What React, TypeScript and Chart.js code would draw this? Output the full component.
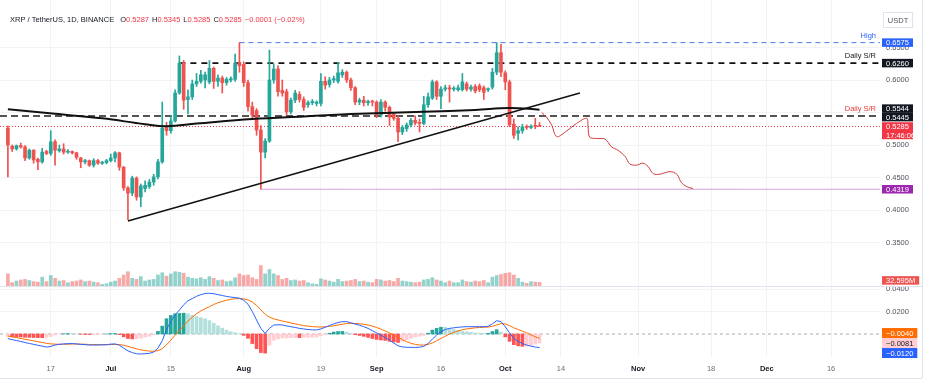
import React, { useEffect, useRef } from 'react';
import { Chart, registerables } from 'chart.js';

Chart.register(...registerables);

const FONT = '"Liberation Sans", Arial, sans-serif';
const FS = 7.5;

// day index: 0 = 1 Jul 2024
const FIRST_DAY = -24; // 7 Jun 2024
const X_MIN = -25.84;
const X_MAX = 179.4;

const X_TICK_DAYS = [-14, 0, 14, 31, 49, 62, 77, 92, 105, 123, 140, 153, 168];
const X_TICK_LABELS = ['17', 'Jul', '15', 'Aug', '19', 'Sep', '16', 'Oct', '14', 'Nov', '18', 'Dec', '16'];
const MONTH_LABELS = ['Jul', 'Aug', 'Sep', 'Oct', 'Nov', 'Dec'];

const PRICE_TICKS = [0.35, 0.4, 0.45, 0.5, 0.55, 0.6, 0.65];
const MACD_TICKS = [0.02, 0.04];
const PRICE_MIN = 0.28308;
const PRICE_MAX = 0.72308;
const MACD_MIN = -0.020444;
const MACD_MAX = 0.042667;
const VOL_AXIS_MAX = 2600;

const OPEN = [
  0.526, 0.498, 0.494, 0.499, 0.497, 0.480, 0.492, 0.478, 0.474, 0.490,
  0.487, 0.505, 0.491, 0.494, 0.489, 0.490, 0.488, 0.480, 0.474, 0.476,
  0.469, 0.476, 0.472, 0.473, 0.476, 0.480, 0.488, 0.466, 0.434, 0.426,
  0.449, 0.420, 0.433, 0.436, 0.443, 0.451, 0.474, 0.527, 0.522, 0.537,
  0.580, 0.626, 0.570, 0.574, 0.594, 0.598, 0.600, 0.597, 0.618, 0.598,
  0.603, 0.596, 0.600, 0.601, 0.627, 0.624, 0.596, 0.559, 0.553, 0.523,
  0.489, 0.506, 0.600, 0.617, 0.584, 0.582, 0.551, 0.569, 0.578, 0.570,
  0.562, 0.565, 0.564, 0.564, 0.598, 0.593, 0.600, 0.598, 0.608, 0.612,
  0.600, 0.588, 0.566, 0.569, 0.565, 0.567, 0.566, 0.546, 0.566, 0.558,
  0.548, 0.541, 0.520, 0.525, 0.531, 0.538, 0.535, 0.533, 0.562, 0.572,
  0.597, 0.575, 0.586, 0.588, 0.586, 0.585, 0.585, 0.594, 0.586, 0.590,
  0.591, 0.588, 0.585, 0.589, 0.612, 0.642, 0.611, 0.597, 0.532, 0.518,
  0.522, 0.528, 0.527, 0.529, 0.5287,
];
const HIGH = [
  0.529, 0.500, 0.500, 0.503, 0.499, 0.494, 0.493, 0.480, 0.495, 0.492,
  0.522, 0.508, 0.500, 0.502, 0.493, 0.491, 0.489, 0.481, 0.478, 0.477,
  0.479, 0.478, 0.475, 0.478, 0.486, 0.490, 0.489, 0.467, 0.436, 0.452,
  0.451, 0.440, 0.445, 0.447, 0.455, 0.478, 0.566, 0.535, 0.545, 0.585,
  0.637, 0.630, 0.585, 0.600, 0.610, 0.615, 0.612, 0.630, 0.620, 0.608,
  0.606, 0.604, 0.605, 0.640, 0.6575, 0.628, 0.600, 0.566, 0.556, 0.530,
  0.510, 0.646, 0.625, 0.622, 0.600, 0.586, 0.572, 0.584, 0.582, 0.574,
  0.568, 0.570, 0.568, 0.610, 0.605, 0.604, 0.606, 0.627, 0.616, 0.614,
  0.603, 0.590, 0.572, 0.575, 0.569, 0.569, 0.568, 0.570, 0.568, 0.560,
  0.550, 0.545, 0.530, 0.534, 0.541, 0.545, 0.540, 0.575, 0.580, 0.600,
  0.599, 0.590, 0.592, 0.592, 0.590, 0.592, 0.610, 0.597, 0.592, 0.593,
  0.594, 0.591, 0.588, 0.618, 0.6575, 0.655, 0.614, 0.600, 0.540, 0.528,
  0.532, 0.531, 0.531, 0.541, 0.5345,
];
const LOW = [
  0.451, 0.490, 0.492, 0.495, 0.476, 0.478, 0.472, 0.462, 0.472, 0.485,
  0.484, 0.469, 0.489, 0.486, 0.487, 0.486, 0.478, 0.465, 0.471, 0.467,
  0.466, 0.470, 0.470, 0.471, 0.474, 0.474, 0.461, 0.430, 0.385, 0.422,
  0.415, 0.405, 0.428, 0.433, 0.438, 0.448, 0.472, 0.515, 0.518, 0.535,
  0.578, 0.555, 0.548, 0.570, 0.590, 0.595, 0.588, 0.594, 0.587, 0.590,
  0.580, 0.592, 0.597, 0.598, 0.612, 0.590, 0.552, 0.540, 0.515, 0.4319,
  0.480, 0.504, 0.595, 0.575, 0.575, 0.546, 0.548, 0.565, 0.566, 0.553,
  0.558, 0.562, 0.560, 0.560, 0.586, 0.589, 0.596, 0.595, 0.604, 0.596,
  0.584, 0.562, 0.562, 0.560, 0.561, 0.560, 0.542, 0.543, 0.552, 0.530,
  0.538, 0.505, 0.516, 0.521, 0.528, 0.531, 0.520, 0.531, 0.558, 0.570,
  0.570, 0.556, 0.583, 0.566, 0.583, 0.583, 0.583, 0.583, 0.583, 0.580,
  0.582, 0.570, 0.582, 0.586, 0.608, 0.605, 0.585, 0.528, 0.510, 0.508,
  0.518, 0.524, 0.525, 0.525, 0.5285,
];
const CLOSE = [
  0.500, 0.494, 0.499, 0.497, 0.480, 0.492, 0.477, 0.474, 0.489, 0.487,
  0.505, 0.492, 0.494, 0.489, 0.490, 0.488, 0.481, 0.474, 0.476, 0.469,
  0.476, 0.472, 0.473, 0.476, 0.480, 0.488, 0.466, 0.434, 0.426, 0.449,
  0.420, 0.437, 0.438, 0.443, 0.451, 0.474, 0.526, 0.522, 0.537, 0.580,
  0.626, 0.569, 0.574, 0.594, 0.598, 0.608, 0.608, 0.618, 0.598, 0.603,
  0.596, 0.601, 0.602, 0.626, 0.622, 0.596, 0.559, 0.546, 0.523, 0.489,
  0.506, 0.600, 0.617, 0.582, 0.580, 0.551, 0.569, 0.580, 0.570, 0.558,
  0.565, 0.567, 0.566, 0.598, 0.592, 0.600, 0.602, 0.611, 0.612, 0.600,
  0.588, 0.566, 0.569, 0.565, 0.567, 0.566, 0.546, 0.566, 0.558, 0.543,
  0.541, 0.520, 0.527, 0.531, 0.538, 0.534, 0.533, 0.562, 0.574, 0.597,
  0.575, 0.586, 0.588, 0.586, 0.587, 0.588, 0.597, 0.586, 0.589, 0.583,
  0.585, 0.581, 0.586, 0.612, 0.642, 0.612, 0.597, 0.531, 0.515, 0.522,
  0.528, 0.527, 0.529, 0.5287, 0.5285,
];
// volume in millions
const VOLUME = [
  110, 30, 45, 55, 60, 50, 40, 35, 80, 40,
  95, 70, 45, 50, 30, 40, 45, 55, 40, 45,
  35, 30, 15, 20, 35, 45, 70, 100, 130, 70,
  60, 85, 45, 55, 60, 100, 120, 90, 110, 130,
  125, 115, 80, 70, 65, 75, 60, 85, 70, 50,
  55, 40, 45, 75, 110, 95, 100, 75, 60, 185,
  110, 150, 110, 95, 60, 70, 50, 55, 45, 50,
  30, 20, 15, 65, 55, 45, 35, 60, 40, 45,
  50, 60, 40, 45, 35, 30, 60, 55, 45, 50,
  40, 70, 45, 40, 35, 30, 35, 55, 60, 75,
  55, 45, 30, 45, 30, 30, 55, 40, 35, 45,
  40, 50, 30, 80, 95, 105, 115, 120, 100, 70,
  35, 25, 40, 35, 32.595,
];
const MACD = [
  -0.0040, -0.0050, -0.0058, -0.0066, -0.0076, -0.0084, -0.0092, -0.0100, -0.0108, -0.0116,
  -0.0110, -0.0098, -0.0092, -0.0088, -0.0086, -0.0085, -0.0088, -0.0092, -0.0095, -0.0098,
  -0.0098, -0.0098, -0.0096, -0.0095, -0.0090, -0.0088, -0.0100, -0.0125, -0.0150, -0.0165,
  -0.0175, -0.0178, -0.0175, -0.0172, -0.0160, -0.0125, -0.0060, 0.0040, 0.0110, 0.0170,
  0.0213, 0.0260, 0.0295, 0.0315, 0.0335, 0.0350, 0.0360, 0.0362, 0.0358, 0.0350,
  0.0342, 0.0334, 0.0328, 0.0324, 0.0318, 0.0300, 0.0265, 0.0200, 0.0124, 0.0050,
  0.0005, 0.0050, 0.0080, 0.0082, 0.0080, 0.0072, 0.0065, 0.0058, 0.0050, 0.0045,
  0.0040, 0.0037, 0.0036, 0.0045, 0.0060, 0.0075, 0.0090, 0.0102, 0.0110, 0.0110,
  0.0100, 0.0088, 0.0078, 0.0065, 0.0050, 0.0030, 0.0010, -0.0010, -0.0030, -0.0055,
  -0.0080, -0.0105, -0.0115, -0.0118, -0.0119, -0.0119, -0.0117, -0.0110, -0.0085, -0.0045,
  -0.0010, 0.0020, 0.0040, 0.0050, 0.0055, 0.0060, 0.0063, 0.0065, 0.0065, 0.0065,
  0.0065, 0.0065, 0.0068, 0.0090, 0.0118, 0.0110, 0.0065, 0.0010, -0.0040, -0.0065,
  -0.0085, -0.0098, -0.0108, -0.0116, -0.01204,
];
const SIGNAL = [
  -0.0018, -0.0025, -0.0032, -0.0040, -0.0047, -0.0054, -0.0061, -0.0068, -0.0075, -0.0083,
  -0.0088, -0.0090, -0.0091, -0.0091, -0.0090, -0.0089, -0.0089, -0.0090, -0.0091, -0.0093,
  -0.0094, -0.0095, -0.0095, -0.0095, -0.0094, -0.0093, -0.0094, -0.0100, -0.0110, -0.0121,
  -0.0132, -0.0141, -0.0148, -0.0152, -0.0154, -0.0148, -0.0130, -0.0096, -0.0055, -0.0010,
  0.0030, 0.0075, 0.0115, 0.0150, 0.0180, 0.0205, 0.0225, 0.0243, 0.0262, 0.0278,
  0.0290, 0.0300, 0.0308, 0.0313, 0.0315, 0.0312, 0.0303, 0.0285, 0.0255, 0.0215,
  0.0175, 0.0150, 0.0135, 0.0125, 0.0115, 0.0107, 0.0098, 0.0090, 0.0082, 0.0075,
  0.0070, 0.0066, 0.0063, 0.0062, 0.0064, 0.0068, 0.0073, 0.0080, 0.0087, 0.0093,
  0.0095, 0.0094, 0.0091, 0.0086, 0.0080, 0.0070, 0.0058, 0.0043, 0.0027, 0.0010,
  -0.0010, -0.0030, -0.0050, -0.0068, -0.0082, -0.0092, -0.0098, -0.0098, -0.0092, -0.0080,
  -0.0060, -0.0040, -0.0020, 0.0000, 0.0015, 0.0028, 0.0038, 0.0045, 0.0050, 0.0055,
  0.0058, 0.0060, 0.0062, 0.0068, 0.0080, 0.0092, 0.0090, 0.0075, 0.0055, 0.0040,
  0.0025, 0.0010, -0.0008, -0.0025, -0.00396,
];

const MA_DAYS = [-24, -13, -2, 8, 13, 20, 33, 45, 58, 73, 85, 93, 100];
const MA_VALUES = [0.555, 0.548, 0.541, 0.532, 0.529, 0.533, 0.540, 0.544, 0.548, 0.551, 0.554, 0.557, 0.5544];

const TREND_DAYS = [4, 109.4];
const TREND_VALUES = [0.383, 0.58];

const FORECAST_DAYS = [100.5, 101.6, 102.8, 104, 106, 108.6, 111, 111.3, 111.7, 113.3, 115.3, 116.8, 118.3, 120, 121, 122.6, 124.1, 125.3, 126.5, 128, 130.4, 132, 133.1, 134.3, 135.8];
const FORECAST_VALUES = [0.550, 0.543, 0.531, 0.513, 0.520, 0.533, 0.541, 0.528, 0.512, 0.510, 0.509, 0.497, 0.492, 0.482, 0.471, 0.469, 0.472, 0.467, 0.456, 0.455, 0.459, 0.455, 0.442, 0.436, 0.433];

// horizontal levels: High, Daily S/R, Daily S/R, last price, Aug low
const LEVEL_VALUES = [0.6575, 0.626, 0.5445, 0.5285, 0.4319];
const LEVEL_START_DAYS = [30, 16, X_MIN, X_MIN, 35];
const LEVEL_LABELS = ['High', 'Daily S/R', 'Daily S/R', '', ''];

const HEADER_TITLE = 'XRP / TetherUS, 1D, BINANCE';
const HEADER_KEYS = ['O', 'H', 'L', 'C'];
const HEADER_VALUES = ['0.5287', '0.5345', '0.5285', '0.5285'];
const HEADER_CHANGE = '\u22120.0001 (\u22120.02%)';
const COUNTDOWN = '17:46:06';
const CURRENCY = 'USDT';
const VOLUME_LABEL = '32.595M';

const UP = '#26a69a';
const DOWN = '#ef5350';
const GRID = '#f2f3f6';
const FRAME = '#e0e3eb';

const LEVEL_STYLES = [
  { color: '#4a78e8', width: 1, dash: [5, 4] },
  { color: '#111111', width: 1.6, dash: [6, 5] },
  { color: '#555555', width: 2, dash: [7, 4] },
  { color: '#f23645', width: 1, dash: [1, 2] },
  { color: 'rgba(170, 90, 190, 0.55)', width: 1, dash: [] },
];
const LEVEL_LABEL_COLORS = ['#2962ff', '#131722', '#e04040', '', ''];

type Box = { y: number; text: string; text2?: string; bg: string; fg: string; fixed?: boolean; up?: number; down?: number };

const fmt = (v: number) => v.toFixed(4).replace('-', '\u2212');

function drawBoxes(ctx: CanvasRenderingContext2D, items: Box[], x0: number, h: number, minW: number) {
  const list = items
    .map((it) => ({ ...it, up: h / 2, down: h / 2 + (it.text2 ? h : 0) }))
    .sort((a, b) => a.y - b.y);
  for (let iter = 0; iter < 60; iter++) {
    for (let i = 1; i < list.length; i++) {
      const a = list[i - 1];
      const b = list[i];
      const ov = a.y + a.down - (b.y - b.up);
      if (ov > 0.01) {
        if (a.fixed) b.y += ov;
        else if (b.fixed) a.y -= ov;
        else {
          a.y -= ov / 2;
          b.y += ov / 2;
        }
      }
    }
  }
  ctx.font = `${FS}px ${FONT}`;
  ctx.textAlign = 'left';
  ctx.textBaseline = 'middle';
  for (const it of list) {
    const w = Math.max(minW, ctx.measureText(it.text).width + 8);
    ctx.fillStyle = it.bg;
    ctx.fillRect(x0, it.y - it.up, w, it.up + it.down);
    ctx.fillStyle = it.fg;
    ctx.fillText(it.text, x0 + 4, it.y + 0.5);
    if (it.text2) ctx.fillText(it.text2, x0 + 4, it.y + h + 0.5);
  }
}

const overlayPrice = {
  id: 'overlayPrice',
  afterDraw(chart: any) {
    const ctx: CanvasRenderingContext2D = chart.ctx;
    const y = chart.scales.y;
    const yv = chart.scales.yVol;
    const area = chart.chartArea;
    ctx.save();
    ctx.textBaseline = 'middle';
    ctx.font = `${FS}px ${FONT}`;
    // header
    let hx = 10;
    const hy = 20;
    ctx.fillStyle = '#131722';
    ctx.fillText(HEADER_TITLE, hx, hy);
    hx += ctx.measureText(HEADER_TITLE).width + 6;
    HEADER_KEYS.forEach((k, i) => {
      ctx.fillStyle = '#131722';
      ctx.fillText(k, hx, hy);
      hx += ctx.measureText(k).width;
      ctx.fillStyle = '#f23645';
      ctx.fillText(HEADER_VALUES[i], hx, hy);
      hx += ctx.measureText(HEADER_VALUES[i]).width + 3;
    });
    ctx.fillStyle = '#f23645';
    ctx.fillText(HEADER_CHANGE, hx, hy);

    // level captions
    ctx.textAlign = 'right';
    LEVEL_LABELS.forEach((t, i) => {
      if (!t) return;
      ctx.fillStyle = LEVEL_LABEL_COLORS[i];
      ctx.fillText(t, area.right - 4, y.getPixelForValue(LEVEL_VALUES[i]) - 7);
    });

    // currency box
    ctx.textAlign = 'center';
    ctx.strokeStyle = FRAME;
    ctx.lineWidth = 1;
    ctx.strokeRect(883.5, 12.5, 29, 15);
    ctx.fillStyle = '#50535e';
    ctx.fillText(CURRENCY, 898, 20.5);

    // price label boxes
    const x0 = area.right + 2;
    const lastMa = MA_VALUES[MA_VALUES.length - 1];
    const lastClose = CLOSE[CLOSE.length - 1];
    drawBoxes(
      ctx,
      [
        { y: y.getPixelForValue(LEVEL_VALUES[0]), text: fmt(LEVEL_VALUES[0]), bg: '#2962ff', fg: '#fff' },
        { y: y.getPixelForValue(LEVEL_VALUES[1]), text: fmt(LEVEL_VALUES[1]), bg: '#131722', fg: '#fff' },
        { y: y.getPixelForValue(lastMa), text: fmt(lastMa), bg: '#131722', fg: '#fff' },
        { y: y.getPixelForValue(LEVEL_VALUES[2]), text: fmt(LEVEL_VALUES[2]), bg: '#131722', fg: '#fff' },
        { y: y.getPixelForValue(lastClose), text: fmt(lastClose), text2: COUNTDOWN, bg: '#f23645', fg: '#fff', fixed: true },
        { y: y.getPixelForValue(LEVEL_VALUES[4]), text: fmt(LEVEL_VALUES[4]), bg: '#9c27b0', fg: '#fff' },
      ],
      x0,
      8.5,
      31
    );
    drawBoxes(
      ctx,
      [{ y: yv.getPixelForValue(VOLUME[VOLUME.length - 1]) - 2, text: VOLUME_LABEL, bg: '#ef5350', fg: '#fff' }],
      x0,
      8.5,
      31
    );

    // frame
    ctx.strokeStyle = FRAME;
    ctx.beginPath();
    ctx.moveTo(922.5, 0);
    ctx.lineTo(922.5, chart.height);
    ctx.stroke();
    ctx.restore();
  },
};

const overlayMacd = {
  id: 'overlayMacd',
  afterDraw(chart: any) {
    const ctx: CanvasRenderingContext2D = chart.ctx;
    const y = chart.scales.y;
    const area = chart.chartArea;
    ctx.save();
    const last = MACD.length - 1;
    const h = MACD[last] - SIGNAL[last];
    drawBoxes(
      ctx,
      [
        { y: y.getPixelForValue(SIGNAL[last]), text: fmt(SIGNAL[last]), bg: '#ff6d00', fg: '#fff' },
        { y: y.getPixelForValue(h), text: fmt(h), bg: '#ffcdd2', fg: '#131722' },
        { y: y.getPixelForValue(MACD[last]), text: fmt(MACD[last]), bg: '#2962ff', fg: '#fff' },
      ],
      area.right + 2,
      10,
      31
    );
    ctx.strokeStyle = FRAME;
    ctx.lineWidth = 1;
    ctx.beginPath();
    ctx.moveTo(0, 0.5);
    ctx.lineTo(922, 0.5);
    ctx.moveTo(922.5, 0);
    ctx.lineTo(922.5, 92);
    ctx.moveTo(0, 92.5);
    ctx.lineTo(922, 92.5);
    ctx.stroke();
    ctx.restore();
  },
};

const xTicks = (s: any) => {
  s.ticks = X_TICK_DAYS.map((v) => ({ value: v }));
};
const noPad = (s: any) => {
  s.paddingTop = 0;
  s.paddingBottom = 0;
  s.paddingLeft = 0;
  s.paddingRight = 0;
};

const lineBase = { pointRadius: 0, pointHoverRadius: 0, pointHitRadius: 0 };

function priceConfig(): any {
  const days = OPEN.map((_, i) => FIRST_DAY + i);
  const colors = OPEN.map((o, i) => (CLOSE[i] >= o ? UP : DOWN));
  const volColors = OPEN.map((o, i) => (CLOSE[i] >= o ? 'rgba(38,166,154,0.5)' : 'rgba(239,83,80,0.5)'));
  const levelSets = LEVEL_VALUES.map((v, i) => ({
    type: 'line',
    ...lineBase,
    data: [
      { x: LEVEL_START_DAYS[i], y: v },
      { x: X_MAX, y: v },
    ],
    yAxisID: 'y',
    borderColor: LEVEL_STYLES[i].color,
    borderWidth: LEVEL_STYLES[i].width,
    borderDash: LEVEL_STYLES[i].dash,
    order: 8,
  }));
  return {
    type: 'line',
    data: {
      datasets: [
        {
          type: 'bar',
          data: days.map((d, i) => ({ x: d, y: VOLUME[i] })),
          yAxisID: 'yVol',
          backgroundColor: volColors,
          barThickness: 3,
          grouped: false,
          order: 10,
        },
        ...levelSets,
        {
          type: 'bar',
          data: days.map((d, i) => ({ x: d, y: [LOW[i], HIGH[i]] })),
          yAxisID: 'y',
          backgroundColor: colors,
          barThickness: 1,
          grouped: false,
          order: 6,
        },
        {
          type: 'bar',
          data: days.map((d, i) => ({ x: d, y: [OPEN[i], CLOSE[i]] })),
          yAxisID: 'y',
          backgroundColor: colors,
          barThickness: 3,
          minBarLength: 1,
          grouped: false,
          order: 5,
        },
        {
          type: 'line',
          ...lineBase,
          data: MA_DAYS.map((d, i) => ({ x: d, y: MA_VALUES[i] })),
          yAxisID: 'y',
          borderColor: '#111111',
          borderWidth: 2,
          tension: 0.4,
          order: 3,
        },
        {
          type: 'line',
          ...lineBase,
          data: TREND_DAYS.map((d, i) => ({ x: d, y: TREND_VALUES[i] })),
          yAxisID: 'y',
          borderColor: '#111111',
          borderWidth: 1.5,
          order: 3,
        },
        {
          type: 'line',
          ...lineBase,
          data: FORECAST_DAYS.map((d, i) => ({ x: d, y: FORECAST_VALUES[i] })),
          yAxisID: 'y',
          borderColor: '#cf3b3b',
          borderWidth: 1,
          tension: 0.35,
          order: 2,
        },
      ],
    },
    options: {
      responsive: false,
      animation: false,
      devicePixelRatio: 1,
      events: [],
      layout: { padding: 0, autoPadding: false },
      plugins: { legend: { display: false }, tooltip: { enabled: false } },
      scales: {
        x: {
          type: 'linear',
          min: X_MIN,
          max: X_MAX,
          offset: false,
          grid: { color: GRID, drawTicks: false, offset: false },
          border: { display: false },
          ticks: { display: false },
          afterBuildTicks: xTicks,
          afterFit: (s: any) => {
            s.height = 0;
            noPad(s);
          },
        },
        y: {
          type: 'linear',
          position: 'right',
          min: PRICE_MIN,
          max: PRICE_MAX,
          grid: { color: GRID, drawTicks: false },
          border: { display: false },
          ticks: {
            padding: 6,
            color: '#50535e',
            font: { size: FS, family: FONT },
            callback: (v: any) => Number(v).toFixed(4),
          },
          afterBuildTicks: (s: any) => {
            s.ticks = PRICE_TICKS.map((v) => ({ value: v }));
          },
          afterFit: (s: any) => {
            s.width = 55;
            noPad(s);
          },
        },
        yVol: {
          type: 'linear',
          position: 'left',
          display: false,
          min: 0,
          max: VOL_AXIS_MAX,
        },
      },
    },
    plugins: [overlayPrice],
  };
}

function macdConfig(): any {
  const days = MACD.map((_, i) => FIRST_DAY + i);
  const hist = MACD.map((m, i) => m - SIGNAL[i]);
  const histColors = hist.map((h, i) => {
    const prev = i > 0 ? hist[i - 1] : h;
    if (h >= 0) return h > prev ? '#26a69a' : '#b2dfdb';
    return h < prev ? '#ff5252' : '#ffcdd2';
  });
  return {
    type: 'line',
    data: {
      datasets: [
        {
          type: 'line',
          ...lineBase,
          data: [
            { x: X_MIN, y: 0 },
            { x: X_MAX, y: 0 },
          ],
          borderColor: '#a9acb5',
          borderWidth: 1,
          borderDash: [3, 3],
          order: 9,
        },
        {
          type: 'bar',
          data: days.map((d, i) => ({ x: d, y: hist[i] })),
          backgroundColor: histColors,
          barThickness: 3,
          grouped: false,
          order: 5,
        },
        {
          type: 'line',
          ...lineBase,
          data: days.map((d, i) => ({ x: d, y: MACD[i] })),
          borderColor: '#2962ff',
          borderWidth: 1,
          order: 2,
        },
        {
          type: 'line',
          ...lineBase,
          data: days.map((d, i) => ({ x: d, y: SIGNAL[i] })),
          borderColor: '#ff6d00',
          borderWidth: 1,
          order: 3,
        },
      ],
    },
    options: {
      responsive: false,
      animation: false,
      devicePixelRatio: 1,
      events: [],
      layout: { padding: { left: 0, right: 0, top: 0, bottom: 8 }, autoPadding: false },
      plugins: { legend: { display: false }, tooltip: { enabled: false } },
      scales: {
        x: {
          type: 'linear',
          min: X_MIN,
          max: X_MAX,
          offset: false,
          grid: { color: GRID, drawTicks: false, offset: false },
          border: { display: false },
          ticks: {
            padding: 7,
            autoSkip: false,
            maxRotation: 0,
            color: (c: any) => {
              const lbl = X_TICK_LABELS[X_TICK_DAYS.indexOf(c.tick?.value)];
              return MONTH_LABELS.includes(lbl) ? '#131722' : '#6a6d78';
            },
            font: (c: any) => {
              const lbl = X_TICK_LABELS[X_TICK_DAYS.indexOf(c.tick?.value)];
              return { size: FS, family: FONT, weight: MONTH_LABELS.includes(lbl) ? 'bold' : 'normal' };
            },
            callback: (v: any) => X_TICK_LABELS[X_TICK_DAYS.indexOf(v)] ?? '',
          },
          afterBuildTicks: xTicks,
          afterFit: (s: any) => {
            s.height = 21;
            noPad(s);
          },
        },
        y: {
          type: 'linear',
          position: 'right',
          min: MACD_MIN,
          max: MACD_MAX,
          grid: { color: GRID, drawTicks: false },
          border: { display: false },
          ticks: {
            padding: 6,
            color: '#50535e',
            font: { size: FS, family: FONT },
            callback: (v: any) => Number(v).toFixed(4),
          },
          afterBuildTicks: (s: any) => {
            s.ticks = MACD_TICKS.map((v) => ({ value: v }));
          },
          afterFit: (s: any) => {
            s.width = 55;
            noPad(s);
          },
        },
      },
    },
    plugins: [overlayMacd],
  };
}

export default function App() {
  const priceRef = useRef<HTMLCanvasElement | null>(null);
  const macdRef = useRef<HTMLCanvasElement | null>(null);

  useEffect(() => {
    Chart.defaults.font.family = FONT;
    Chart.defaults.font.size = FS;
    const a = new Chart(priceRef.current as HTMLCanvasElement, priceConfig());
    const b = new Chart(macdRef.current as HTMLCanvasElement, macdConfig());
    return () => {
      a.destroy();
      b.destroy();
    };
  }, []);

  return (
    <div style={{ position: 'fixed', left: 0, top: 0, width: 935, height: 386, background: '#ffffff', overflow: 'hidden' }}>
      <canvas ref={priceRef} width={935} height={286} style={{ position: 'absolute', left: 0, top: 0, width: 935, height: 286 }} />
      <canvas ref={macdRef} width={935} height={100} style={{ position: 'absolute', left: 0, top: 286, width: 935, height: 100 }} />
    </div>
  );
}
